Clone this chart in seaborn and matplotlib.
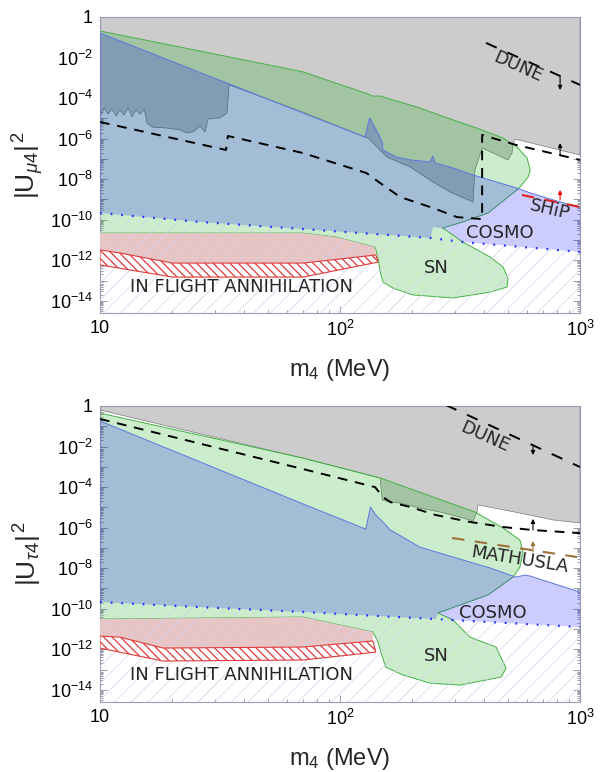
import numpy as np
import pandas as pd
import matplotlib
matplotlib.use("Agg")
import matplotlib.pyplot as plt
import seaborn as sns
from matplotlib.ticker import LogLocator, FuncFormatter, NullFormatter

# masses in MeV, mixings stored as log10 |U|^2

# ---------------- |U_mu4|^2 panel ----------------
mu_gray_m = [10, 10.4, 10.8, 11.2, 11.7, 12.1, 12.6, 13.1, 13.6, 14.1, 14.7, 15.3,
             15.7, 16.5, 19.0, 21.5, 23.0, 24.4, 26.1, 27.4, 28.2, 31.6, 33.8, 34.5,
             70.1, 127, 131, 157, 196, 244, 287, 358, 365, 391, 501, 521, 526, 536, 1000]
mu_gray_lu = [-4.93, -4.49, -4.79, -4.54, -4.88, -4.59, -4.83, -4.49, -4.93, -4.59, -4.79, -4.54,
              -5.23, -5.43, -5.48, -5.57, -5.72, -5.67, -5.38, -5.67, -5.03, -4.98, -4.74, -3.35,
              -4.69, -5.92, -5.97, -6.91, -7.40, -8.14, -8.63, -9.13, -7.55, -6.46, -7.05, -6.71,
              -6.22, -6.02, -6.81]

mu_green_m = [10, 26.1, 70.1, 131, 136, 147, 215, 296, 372, 478,
              546, 602, 620, 608, 562, 546, 414, 325, 268,
              325, 422, 478, 501, 497, 422, 296, 201, 166, 151,
              147, 144, 140, 96, 70.1, 10]
mu_green_lu = [-0.69, -1.68, -2.71, -3.80, -3.90, -3.90, -4.49, -5.08, -5.48, -5.97,
               -6.41, -6.96, -7.55, -7.89, -8.39, -8.53, -9.67, -10.11, -10.41,
               -11.10, -11.84, -12.33, -12.88, -13.32, -13.57, -13.86, -13.71, -13.37, -13.07,
               -12.58, -11.89, -11.35, -10.85, -10.66, -10.66]

mu_blue_top_m = [10, 70.1, 127, 133, 143, 150, 151, 172, 196, 237, 244, 249, 287, 358, 546, 620, 1000]
mu_blue_top_lu = [-0.79, -4.74, -5.92, -4.98, -5.67, -6.17, -6.56, -6.91, -7.05, -7.15, -6.86,
                  -7.20, -7.40, -7.79, -8.44, -8.68, -9.42]
mu_blue_bot_m = [10, 26.1, 70.1, 239, 244, 274, 325, 1000]
mu_blue_bot_lu = [-9.67, -10.11, -10.46, -10.90, -10.36, -10.46, -11.10, -11.59]

mu_dot_m = [10, 26.1, 70.1, 239, 325, 1000]
mu_dot_lu = [-9.67, -10.11, -10.46, -10.90, -11.10, -11.59]

mu_pink_m = [10, 70.1, 96, 140, 141, 70.1, 20.1, 12.1, 10]
mu_pink_lu = [-10.66, -10.66, -10.85, -11.35, -11.74, -12.14, -12.14, -11.64, -11.49]
mu_band_top_m = [10, 12.1, 20.1, 70.1, 141]
mu_band_top_lu = [-11.49, -11.64, -12.14, -12.14, -11.74]
mu_band_bot_m = [10, 20.1, 70.1, 144]
mu_band_bot_lu = [-12.23, -12.83, -12.83, -12.09]

mu_dash_m = [10, 33.5, 34.1, 70.1, 129, 147, 178, 244, 307, 391, 391, 541, 1000]
mu_dash_lu = [-5.18, -6.56, -5.87, -6.71, -7.70, -8.19, -8.88, -9.42, -9.87, -9.97, -5.82, -6.31, -7.05]
mu_dune_m = [406, 1000]
mu_dune_lu = [-1.28, -3.35]
mu_ship_m = [573, 1000]
mu_ship_lu = [-8.78, -9.37]
# arrows: (mass, from, to, colour)
mu_arrows = [(826, -2.96, -3.60, 'black'), (826, -6.81, -6.22, 'black'), (826, -9.03, -8.53, 'red')]
mu_labels = [('DUNE', 552, -2.47, -24), ('SHiP', 750, -9.52, -13), ('COSMO', 464, -10.66, 0),
             ('SN', 251, -12.38, 0), ('IN FLIGHT ANNIHILATION', 38.7, -13.32, 0)]

# ---------------- |U_tau4|^2 panel ----------------
tau_gray_m = [10, 70.1, 147, 150, 162, 178, 215, 261, 316, 358, 372, 376, 562, 772, 1000]
tau_gray_lu = [-0.20, -2.57, -3.55, -4.64, -4.74, -4.79, -5.03, -5.23, -5.48, -5.67, -5.23, -4.88,
               -5.28, -5.62, -5.77]

tau_green_m = [10, 70.1, 147, 365, 478, 562, 579, 562, 526, 414,
               256, 296, 348, 447, 492, 469, 316, 237, 183, 155,
               148, 144, 137, 70.1, 10]
tau_green_lu = [-0.35, -2.57, -3.55, -5.23, -6.02, -6.61, -7.20, -7.94, -8.44, -9.32,
                -10.21, -10.56, -11.40, -11.89, -12.93, -13.37, -13.77, -13.67, -13.27, -12.88,
                -12.14, -11.64, -11.15, -10.41, -10.51]

tau_blue_top_m = [10, 70.1, 128, 134, 141, 151, 162, 171, 215, 296, 422, 541, 590, 620, 1000]
tau_blue_top_lu = [-0.74, -4.83, -6.07, -4.98, -5.38, -5.72, -6.12, -6.27, -6.96, -7.45, -7.99,
                   -8.44, -8.34, -8.39, -9.18]
tau_blue_bot_m = [10, 26.1, 70.1, 251, 256, 296, 1000]
tau_blue_bot_lu = [-9.67, -9.92, -10.16, -10.51, -10.21, -10.56, -10.90]

tau_dot_m = [10, 26.1, 70.1, 251, 296, 1000]
tau_dot_lu = [-9.67, -9.92, -10.16, -10.51, -10.56, -10.90]

tau_pink_m = [10, 70.1, 137, 137, 70.1, 18.3, 12.1, 10]
tau_pink_lu = [-10.51, -10.41, -11.15, -11.59, -11.89, -11.94, -11.40, -11.35]
tau_band_top_m = [10, 12.1, 18.3, 70.1, 137]
tau_band_top_lu = [-11.35, -11.40, -11.94, -11.89, -11.59]
tau_band_bot_m = [10, 18.3, 70.1, 141]
tau_band_bot_lu = [-11.94, -12.58, -12.53, -12.14]

tau_dash_m = [10, 70.1, 140, 151, 162, 196, 251, 348, 478, 637, 1000]
tau_dash_lu = [-0.64, -3.11, -4.00, -4.49, -4.74, -4.98, -5.38, -5.72, -5.97, -6.12, -6.27]
tau_dune_m = [276, 1000]
tau_dune_lu = [0.05, -3.01]
tau_math_m = [293, 972]
tau_math_lu = [-6.51, -7.45]
tau_arrows = [(637, -2.02, -2.42, 'black'), (637, -6.12, -5.57, 'black'), (637, -7.20, -6.66, '#a0703a')]
tau_labels = [('DUNE', 402, -1.53, -24), ('MATHUSLA', 562, -7.60, -9), ('COSMO', 434, -10.21, 0),
              ('SN', 251, -12.33, 0), ('IN FLIGHT ANNIHILATION', 38.7, -13.27, 0)]


sns.set_style("ticks")
plt.rcParams['font.family'] = ['Liberation Sans', 'DejaVu Sans']
plt.rcParams['mathtext.fontset'] = 'custom'
plt.rcParams['mathtext.rm'] = 'Liberation Sans'
plt.rcParams['mathtext.it'] = 'Liberation Sans:italic'
plt.rcParams['mathtext.bf'] = 'Liberation Sans:bold'

U = lambda lu: np.power(10.0, np.asarray(lu, dtype=float))


def line(ax, m, lu, **kw):
    df = pd.DataFrame({'m': m, 'u': U(lu)})
    sns.lineplot(data=df, x='m', y='u', sort=False, estimator=None, legend=False, ax=ax, **kw)


def panel(ax, gray, green, btop, bbot, dot, pink, band_top, band_bot,
          dashed, dune, extra, extra_col, arrows, labels, ylabel):
    ax.set_xscale('log')
    ax.set_yscale('log')
    # experimental region (gray) above its lower edge
    gm, gl = gray
    ax.fill(list(gm) + [1000, 10], U(list(gl) + [1, 1]), fc='#cccccc', ec='#7a7a7a', lw=0.5, zorder=1)
    # green region
    ax.fill(green[0], U(green[1]), fc=(0, 0.65, 0, 0.2), ec='#44b044', lw=0.7, zorder=2)
    # blue (cosmo) region
    ax.fill(list(btop[0]) + list(bbot[0])[::-1], U(list(btop[1]) + list(bbot[1])[::-1]),
            fc=(0, 0, 1, 0.2), ec='none', zorder=3)
    line(ax, btop[0], btop[1], color='#5a78e0', lw=0.7, zorder=3.5)
    # in-flight annihilation
    ax.fill(pink[0], U(pink[1]), fc='#e8c5c5', ec='none', zorder=4)
    with plt.rc_context({'hatch.linewidth': 0.5}):
        ax.fill(list(dot[0]) + [1000, 10], U(list(dot[1]) + [-16, -16]),
                fc='none', ec='#d2d2ee', hatch='//', lw=0, zorder=5)
    with plt.rc_context({'hatch.linewidth': 0.9}):
        ax.fill(list(band_top[0]) + list(band_bot[0])[::-1],
                U(list(band_top[1]) + list(band_bot[1])[::-1]),
                fc='white', ec='#e03a3a', hatch='\\\\\\\\', lw=0.8, zorder=6)
    line(ax, dot[0], dot[1], color='#2030ff', lw=1.6, linestyle=(0, (0.8, 4.0)), zorder=7)
    # sensitivities
    line(ax, dashed[0], dashed[1], color='black', lw=1.4, linestyle=(0, (5, 4)), zorder=8)
    line(ax, dune[0], dune[1], color='black', lw=1.4, linestyle=(0, (6, 6)), zorder=8)
    line(ax, extra[0], extra[1], color=extra_col, lw=1.5, linestyle=(0, (6, 5)), zorder=8)
    for m, a, b, c in arrows:
        ax.annotate('', xy=(m, 10 ** b), xytext=(m, 10 ** a),
                    arrowprops=dict(arrowstyle='-|>', color=c, lw=0.8, mutation_scale=6,
                                    shrinkA=0, shrinkB=0), zorder=9)
    for txt, m, lu, rot in labels:
        ax.text(m, 10 ** lu, txt, ha='center', va='center', rotation=rot, fontsize=13,
                family='DejaVu Sans', zorder=10)

    ax.set_xlim(10, 1000)
    ax.set_ylim(10 ** -14.6, 1)
    ax.xaxis.set_major_locator(LogLocator(base=10, numticks=10))
    ax.xaxis.set_minor_locator(LogLocator(base=10, subs=np.arange(2, 10), numticks=50))
    ax.yaxis.set_major_locator(LogLocator(base=10, subs=(1.0,), numticks=40))
    ax.yaxis.set_minor_locator(LogLocator(base=10, subs=np.arange(2, 10), numticks=200))
    ax.xaxis.set_minor_formatter(NullFormatter())
    ax.yaxis.set_minor_formatter(NullFormatter())

    def xfmt(v, p):
        e = int(round(np.log10(v)))
        return '10' if e == 1 else r'$10^{%d}$' % e

    def yfmt(v, p):
        e = int(round(np.log10(v)))
        if e == 0:
            return '1'
        return r'$10^{%d}$' % e if e % 2 == 0 else ''

    ax.xaxis.set_major_formatter(FuncFormatter(xfmt))
    ax.yaxis.set_major_formatter(FuncFormatter(yfmt))
    ax.tick_params(which='both', direction='in', top=True, right=True, color='#8a8a9a',
                   width=0.6, labelsize=13, labelcolor='black', pad=5)
    ax.tick_params(which='major', length=5)
    ax.tick_params(which='minor', length=2.5)
    for s in ax.spines.values():
        s.set_color('#9a9ab4')
        s.set_linewidth(0.8)
    ax.set_xlabel(r'$\mathrm{m}_4$ (MeV)', fontsize=17, va='center')
    ax.xaxis.set_label_coords(0.5, -0.193)
    ax.set_ylabel(ylabel, fontsize=19, va='center')
    ax.yaxis.set_label_coords(-0.15, 0.5)


fig = plt.figure(figsize=(6.06, 7.72), dpi=100)
ax1 = fig.add_axes([0.165, 0.5946, 0.7921, 0.3834])
ax2 = fig.add_axes([0.165, 0.0907, 0.7921, 0.3834])

panel(ax1, (mu_gray_m, mu_gray_lu), (mu_green_m, mu_green_lu),
      (mu_blue_top_m, mu_blue_top_lu), (mu_blue_bot_m, mu_blue_bot_lu),
      (mu_dot_m, mu_dot_lu), (mu_pink_m, mu_pink_lu),
      (mu_band_top_m, mu_band_top_lu), (mu_band_bot_m, mu_band_bot_lu),
      (mu_dash_m, mu_dash_lu), (mu_dune_m, mu_dune_lu), (mu_ship_m, mu_ship_lu), '#e02020',
      mu_arrows, mu_labels, r'$|\mathrm{U}_{\mu 4}|^{\,2}$')

panel(ax2, (tau_gray_m, tau_gray_lu), (tau_green_m, tau_green_lu),
      (tau_blue_top_m, tau_blue_top_lu), (tau_blue_bot_m, tau_blue_bot_lu),
      (tau_dot_m, tau_dot_lu), (tau_pink_m, tau_pink_lu),
      (tau_band_top_m, tau_band_top_lu), (tau_band_bot_m, tau_band_bot_lu),
      (tau_dash_m, tau_dash_lu), (tau_dune_m, tau_dune_lu), (tau_math_m, tau_math_lu), '#a0703a',
      tau_arrows, tau_labels, r'$|\mathrm{U}_{\tau 4}|^{\,2}$')

fig.savefig('out.png', dpi=100)
